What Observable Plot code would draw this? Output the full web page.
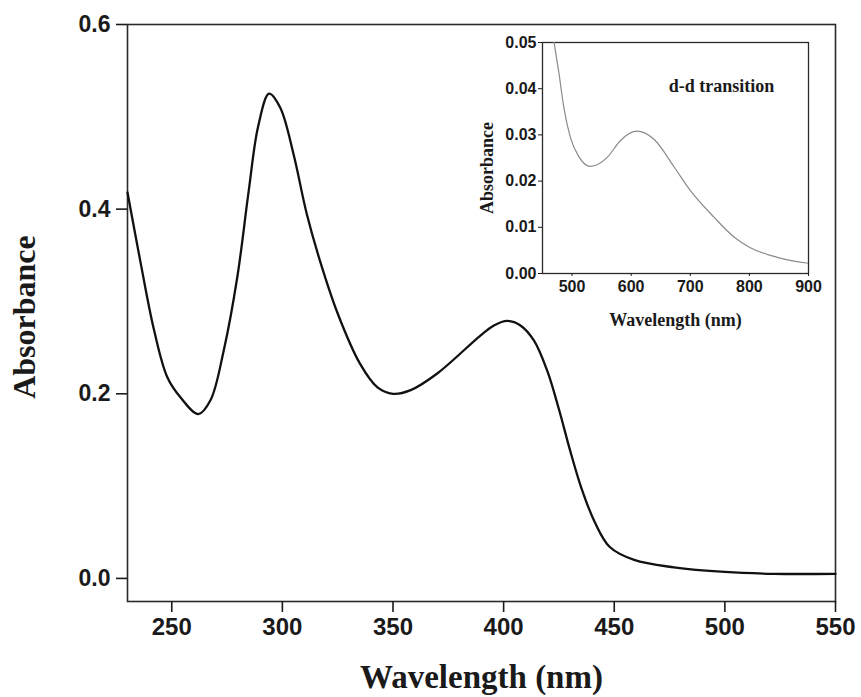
<!DOCTYPE html>
<html>
<head>
<meta charset="utf-8">
<script src="https://cdn.jsdelivr.net/npm/d3@7"></script>
<script src="https://cdn.jsdelivr.net/npm/@observablehq/plot@0.6"></script>
<style>
  html, body { margin: 0; padding: 0; background: #fff; }
  #wrap { position: relative; width: 861px; height: 697px; overflow: hidden; }
  #inset { position: absolute; left: 460px; top: 20px; }
</style>
</head>
<body>
<div id="wrap"><div id="main"></div><div id="inset"></div></div>
<script>
// Main spectrum (UV-Vis)
const mainWavelength = [230, 236, 242, 248, 254, 262, 267.5, 273.5, 279.6, 284.8, 289, 294, 299, 305, 311, 317, 325, 335, 343, 350, 358, 370, 389.5, 395.6, 401.6, 407.6, 413.6, 419.7, 424.9, 430, 435, 441, 448, 459, 477, 500, 522, 550];
const mainAbsorbance = [0.418, 0.341, 0.269, 0.218, 0.196, 0.178, 0.193, 0.247, 0.326, 0.420, 0.489, 0.525, 0.510, 0.460, 0.395, 0.344, 0.287, 0.233, 0.207, 0.200, 0.204, 0.222, 0.263, 0.274, 0.279, 0.274, 0.258, 0.225, 0.184, 0.139, 0.099, 0.062, 0.034, 0.020, 0.012, 0.007, 0.005, 0.005];
const mainXTicks = [250, 300, 350, 400, 450, 500, 550];
const mainYTicks = [0.0, 0.2, 0.4, 0.6];

// Inset spectrum (d-d transition)
const insetWavelength = [469, 478, 486, 497, 512, 531, 560, 582, 610, 639, 673, 700, 740, 774, 800, 847, 900];
const insetAbsorbance = [0.0505, 0.0432, 0.0360, 0.0295, 0.0252, 0.0232, 0.0252, 0.0288, 0.0308, 0.0290, 0.0230, 0.0180, 0.0122, 0.0079, 0.0057, 0.0035, 0.0022];
const insetXTicks = [500, 600, 700, 800, 900];
const insetYTicks = [0.00, 0.01, 0.02, 0.03, 0.04, 0.05];

const xLabel = "Wavelength (nm)";
const yLabel = "Absorbance";
const insetNote = "d-d transition";

const mainData = mainWavelength.map((w, i) => ({w, a: mainAbsorbance[i]}));
const insetData = insetWavelength.map((w, i) => ({w, a: insetAbsorbance[i]}));

const SANS = "'Liberation Sans', Arial, sans-serif";
const SERIF = "'Liberation Serif', 'Times New Roman', serif";

const main = Plot.plot({
  width: 861, height: 697,
  marginLeft: 127, marginRight: 26, marginTop: 24, marginBottom: 96,
  style: {background: "transparent", fontFamily: SANS, fontWeight: "bold", color: "#1a1a1a", overflow: "visible"},
  x: {domain: [230, 550]},
  y: {domain: [-0.025, 0.6]},
  marks: [
    Plot.frame({stroke: "#2a2a2a", strokeWidth: 1.6}),
    Plot.axisX({ticks: mainXTicks, tickSize: 11, tickPadding: 5, tickFormat: d => String(d), fontSize: 24, label: null, strokeWidth: 1.6}),
    Plot.axisY({ticks: mainYTicks, tickSize: 11, tickPadding: 6, tickFormat: d3.format(".1f"), fontSize: 23, label: null, strokeWidth: 1.6}),
    Plot.line(mainData, {x: "w", y: "a", curve: "catmull-rom", stroke: "#111", strokeWidth: 2.3}),
    Plot.text([xLabel], {frameAnchor: "bottom", textAnchor: "middle", lineAnchor: "bottom", dy: 86, fontFamily: SERIF, fontSize: 33, fontWeight: "bold", fill: "#1a1a1a"}),
    Plot.text([yLabel], {frameAnchor: "left", textAnchor: "middle", rotate: -90, lineAnchor: "bottom", dx: -93, dy: 4, fontFamily: SERIF, fontSize: 32, fontWeight: "bold", fill: "#1a1a1a"})
  ]
});
document.getElementById("main").append(main);

const inset = Plot.plot({
  width: 400, height: 320,
  marginLeft: 82, marginRight: 52, marginTop: 22, marginBottom: 67,
  style: {background: "transparent", fontFamily: SANS, fontWeight: "bold", color: "#1a1a1a", overflow: "visible"},
  x: {domain: [450, 900]},
  y: {domain: [0, 0.05]},
  marks: [
    Plot.frame({stroke: "#2a2a2a", strokeWidth: 1.3}),
    Plot.axisX({ticks: insetXTicks, tickSize: 3, tickPadding: 4, tickFormat: d => String(d), fontSize: 16, label: null}),
    Plot.axisY({ticks: insetYTicks, tickSize: 4, tickPadding: 2, tickFormat: d3.format(".2f"), fontSize: 16, label: null}),
    Plot.line(insetData, {x: "w", y: "a", curve: "monotone-x", stroke: "#8a8a8a", strokeWidth: 1.2, clip: true}),
    Plot.text([insetNote], {frameAnchor: "top-right", textAnchor: "middle", lineAnchor: "middle", dx: -87, dy: 44, fontFamily: SERIF, fontSize: 18, fontWeight: "bold", fill: "#1a1a1a"}),
    Plot.text([xLabel], {frameAnchor: "bottom", textAnchor: "middle", lineAnchor: "bottom", dy: 52, fontFamily: SERIF, fontSize: 18, fontWeight: "bold", fill: "#1a1a1a"}),
    Plot.text([yLabel], {frameAnchor: "left", textAnchor: "middle", rotate: -90, lineAnchor: "bottom", dx: -50, dy: 10, fontFamily: SERIF, fontSize: 18, fontWeight: "bold", fill: "#1a1a1a"})
  ]
});
document.getElementById("inset").append(inset);
</script>
</body>
</html>
